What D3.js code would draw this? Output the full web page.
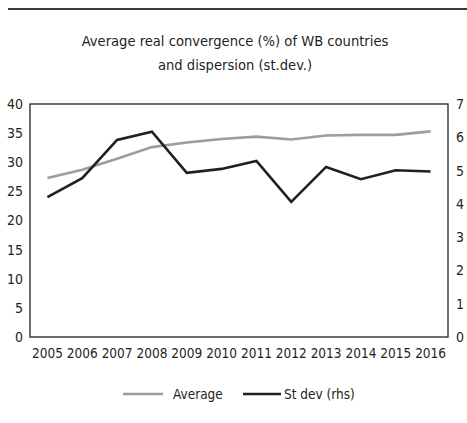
<!DOCTYPE html>
<html>
<head>
<meta charset="utf-8">
<script src="https://cdnjs.cloudflare.com/ajax/libs/d3/7.8.5/d3.min.js"></script>
<style>
  body { margin: 0; background: #fff; }
  text { font-family: "DejaVu Sans", sans-serif; font-stretch: condensed; fill: #231f20; }
</style>
</head>
<body>
<div id="viz"></div>
<script>
var years = ["2005","2006","2007","2008","2009","2010","2011","2012","2013","2014","2015","2016"];
var average = [27.3, 28.7, 30.6, 32.6, 33.4, 34.0, 34.4, 33.9, 34.6, 34.7, 34.7, 35.3];
var stdev = [4.20, 4.77, 5.92, 6.17, 4.93, 5.05, 5.29, 4.06, 5.11, 4.74, 5.01, 4.97];
var leftTicks = [0, 5, 10, 15, 20, 25, 30, 35, 40];
var rightTicks = [0, 1, 2, 3, 4, 5, 6, 7];

var width = 467, height = 423,
    margin = {top: 104, bottom: 86, left: 30, right: 19},
    plotW = width - margin.left - margin.right,
    plotH = height - margin.top - margin.bottom;

var svg = d3.select("#viz").append("svg")
    .attr("width", width)
    .attr("height", height);

// top rule
svg.append("line")
    .attr("x1", 8).attr("x2", width)
    .attr("y1", 9).attr("y2", 9)
    .attr("stroke", "#3a3a3a").attr("stroke-width", 2);

// title
svg.append("text").attr("x", 235).attr("y", 46).attr("text-anchor", "middle")
    .style("font-size", "14.6px").text("Average real convergence (%) of WB countries");
svg.append("text").attr("x", 235).attr("y", 70).attr("text-anchor", "middle")
    .style("font-size", "14.6px").text("and dispersion (st.dev.)");

var g = svg.append("g").attr("transform", "translate(" + margin.left + "," + margin.top + ")");

var x = d3.scaleBand().domain(years).range([0, plotW]),
    yL = d3.scaleLinear().domain([0, 40]).range([plotH, 0]),
    yR = d3.scaleLinear().domain([0, 7]).range([plotH, 0]);

// frame
g.append("rect")
    .attr("x", 0).attr("y", 0)
    .attr("width", plotW).attr("height", plotH)
    .attr("fill", "none").attr("stroke", "#231f20").attr("stroke-width", 1.3);

var axL = g.append("g").call(d3.axisLeft(yL).tickValues(leftTicks).tickSize(0).tickPadding(7));
var axR = g.append("g").attr("transform", "translate(" + plotW + ",0)")
    .call(d3.axisRight(yR).tickValues(rightTicks).tickFormat(d3.format("d")).tickSize(0).tickPadding(8));
var axB = g.append("g").attr("transform", "translate(0," + plotH + ")")
    .call(d3.axisBottom(x).tickSize(0).tickPadding(11));

[axL, axR].forEach(function(a){
    a.select(".domain").remove();
    a.selectAll("text").style("font-size", "14px").style("font-family", null).attr("fill", "#231f20");
});
axB.select(".domain").remove();
axB.selectAll("text").style("font-size", "13.5px").style("font-family", null).attr("fill", "#231f20");

var lineL = d3.line()
    .x(function(d, i){ return x(years[i]) + x.bandwidth() / 2; })
    .y(function(d){ return yL(d); });
var lineR = d3.line()
    .x(function(d, i){ return x(years[i]) + x.bandwidth() / 2; })
    .y(function(d){ return yR(d); });

g.append("path").datum(average)
    .attr("d", lineL)
    .attr("fill", "none").attr("stroke", "#9d9d9c").attr("stroke-width", 2.6);

g.append("path").datum(stdev)
    .attr("d", lineR)
    .attr("fill", "none").attr("stroke", "#231f20").attr("stroke-width", 2.6);

// legend
var legend = svg.append("g");
legend.append("line").attr("x1", 123).attr("x2", 163).attr("y1", 394).attr("y2", 394)
    .attr("stroke", "#9d9d9c").attr("stroke-width", 2.6);
legend.append("text").attr("x", 173).attr("y", 399).style("font-size", "13.5px").text("Average");
legend.append("line").attr("x1", 243).attr("x2", 281).attr("y1", 394).attr("y2", 394)
    .attr("stroke", "#231f20").attr("stroke-width", 2.6);
legend.append("text").attr("x", 284).attr("y", 399).style("font-size", "13.5px").text("St dev (rhs)");
</script>
</body>
</html>
